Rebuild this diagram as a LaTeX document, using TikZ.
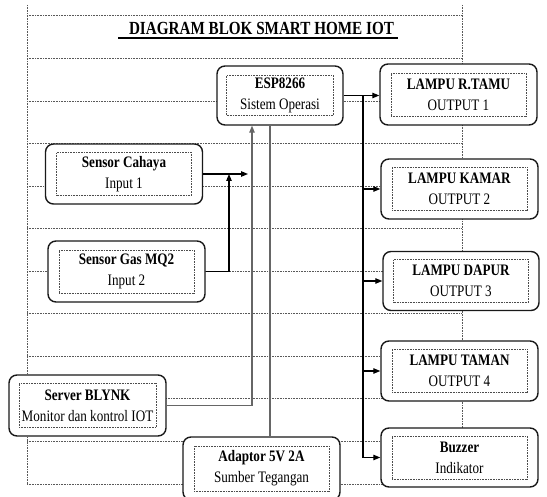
\documentclass[tikz,border=0pt]{standalone}
\usepackage{fontspec}
\setmainfont{Liberation Serif}[FakeStretch=0.82]
\usetikzlibrary{arrows.meta, positioning, calc}

\begin{document}
\begin{tikzpicture}[x=1pt, y=-1pt,
  tabel/.style={draw=black!65, line width=1pt, dash pattern=on 0.9pt off 0.7pt},
  blok/.style={draw=black!90, line width=1.4pt, rounded corners=8pt, fill=white, minimum width=157pt, minimum height=60pt},
  isi/.style={draw=black!70, line width=0.6pt, dash pattern=on 0.8pt off 0.8pt, minimum width=135pt, minimum height=43pt, inner sep=0pt, align=center, font=\fontsize{16}{21}\selectfont},
  panah/.style={-{Triangle[length=7pt, width=5.5pt]}, line width=1.1pt},
  kabel/.style={line width=1.1pt, draw=black!60}]
\clip (0,0) rectangle (547,497);

% Tabel latar (garis titik-titik)
\foreach \i in {0,...,11}
  \draw[tabel] (27,16+42.55*\i) -- (462,16+42.55*\i);
\draw[tabel] (27,5) -- (27,484);
\draw[tabel] (462,5) -- (462,484);

% Judul
\node[anchor=base, font=\bfseries\fontsize{18.5}{22}\selectfont] (judul) at (258,35) {\hspace{7pt}DIAGRAM BLOK SMART HOME IOT};
\draw[line width=1.3pt] ([yshift=-3pt]judul.base west) -- ([yshift=-3pt]judul.base east);

% Blok tengah dan masukan
\node[blok, minimum width=126pt, minimum height=59pt] (esp) at (280,95.5) {};
\node[isi, minimum width=107pt, minimum height=40pt] (espisi) at (esp) {\textbf{ESP8266}\\Sistem Operasi};
\node[blok] (cahaya) at (124,174) {};
\node[isi] (cahayaisi) at (cahaya) {\textbf{Sensor Cahaya}\\Input 1};
\node[blok, minimum height=61pt] (gas) at (126.5,271.5) {};
\node[isi] (gasisi) at (gas) {\textbf{Sensor Gas MQ2}\\Input 2};
\node[blok, minimum height=61pt] (blynk) at (87.5,405.5) {};
\node[isi, minimum width=137pt, minimum height=44pt] (blynkisi) at (blynk) {\textbf{Server BLYNK}\\Monitor dan kontrol IOT};
\node[blok, minimum height=63pt] (adaptor) at (261.5,468.5) {};
\node[isi, minimum height=45pt] (adaptorisi) at (adaptor) {\textbf{Adaptor 5V 2A}\\Sumber Tegangan};

% Keluaran
\node[blok, minimum height=61pt] (tamu) at (458.5,94.5) {};
\node[isi] (tamuisi) at (tamu) {\textbf{LAMPU R.TAMU}\\OUTPUT 1};
\node[blok] (kamar) at (459.5,189) {};
\node[isi] (kamarisi) at (kamar) {\textbf{LAMPU KAMAR}\\OUTPUT 2};
\node[blok, minimum width=156pt, minimum height=59pt] (dapur) at (461,281) {};
\node[isi] (dapurisi) at (dapur) {\textbf{LAMPU DAPUR}\\OUTPUT 3};
\node[blok] (taman) at (459.5,371) {};
\node[isi] (tamanisi) at (taman) {\textbf{LAMPU TAMAN}\\OUTPUT 4};
\node[blok, minimum height=59pt] (buzzer) at (459.5,457.5) {};
\node[isi] (buzzerisi) at (buzzer) {\textbf{Buzzer}\\Indikator};

% Jalur sinyal
\coordinate (bus) at (363,95.5);
\coordinate (gabung) at (248,174);
\coordinate (titik) at (229,174);
\draw[panah] (esp.east) -- (esp.east -| tamu.west);
\foreach \n in {kamar, dapur, taman, buzzer}
  \draw[panah] (bus) |- (\n.west);
\draw[panah] (cahaya.east) -- (gabung);
\draw[panah] (gas.east) -| (titik);
\draw[kabel, panah] (blynk.east) -| ([xshift=-28pt]esp.south);
\draw[kabel] ([xshift=-10pt]esp.south) -- ([xshift=-10pt]esp.south |- adaptor.north);
\end{tikzpicture}
\end{document}
